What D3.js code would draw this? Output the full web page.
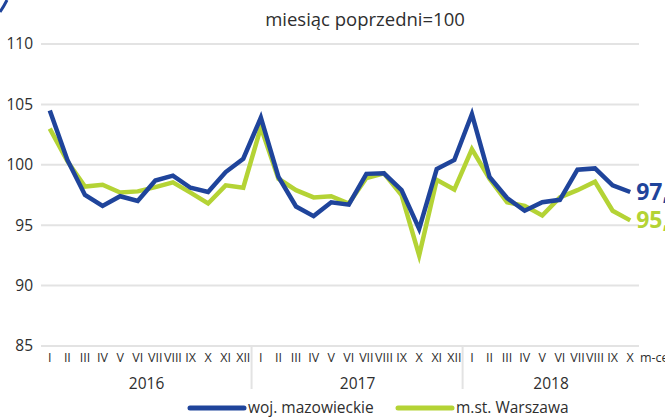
<!DOCTYPE html>
<html>
<head>
<meta charset="utf-8">
<script src="https://cdnjs.cloudflare.com/ajax/libs/d3/7.8.5/d3.min.js"></script>
<style>
	body { margin: 0; background: #fff; overflow: hidden; }
	svg { display: block; font-family: "Open Sans", "Noto Sans", sans-serif; }
</style>
</head>
<body>
<script>
var months = ["I", "II", "III", "IV", "V", "VI", "VII", "VIII", "IX", "X", "XI", "XII",
	"I", "II", "III", "IV", "V", "VI", "VII", "VIII", "IX", "X", "XI", "XII",
	"I", "II", "III", "IV", "V", "VI", "VII", "VIII", "IX", "X"];
var years = ["2016", "2017", "2018"];
var yearStart = [0, 12, 24];
var yTicks = [85, 90, 95, 100, 105, 110];

var mazowieckie = [104.5, 100.4, 97.5, 96.6, 97.4, 97.0, 98.7, 99.1, 98.1, 97.75, 99.4, 100.5,
	103.9, 99.0, 96.55, 95.75, 96.9, 96.7, 99.25, 99.3, 97.9, 94.7, 99.65, 100.4,
	104.2, 99.0, 97.25, 96.2, 96.9, 97.1, 99.6, 99.7, 98.3, 97.75];
var warszawa = [103.0, 100.3, 98.2, 98.35, 97.7, 97.8, 98.15, 98.55, 97.7, 96.8, 98.3, 98.1,
	103.1, 98.85, 97.9, 97.3, 97.4, 96.8, 98.9, 99.3, 97.5, 92.5, 98.75, 97.95,
	101.3, 98.85, 96.9, 96.6, 95.8, 97.3, 97.9, 98.6, 96.2, 95.4];
var endLabels = ["97,7", "95,4"];
var seriesNames = ["woj. mazowieckie", "m.st. Warszawa"];

var blue = "#1f449b",
		green = "#b4d335",
		grid = "#e3e3e3",
		ink = "#2e2e2e";

var w = 665,
		h = 419;
var svg = d3.select('body').append('svg').attr("width", w).attr("height", h);

var x = d3.scaleBand().domain(d3.range(months.length)).range([41, 639]);
var y = d3.scaleLinear().domain([85, 110]).range([346, 44]);

function cx(i) {
	return x(i) + x.bandwidth() / 2;
}

// little blue arc in the top-left corner
svg.append("path")
	.attr("d", "M0,12 Q4,6 7,0")
	.attr("fill", "none")
	.attr("stroke", blue)
	.attr("stroke-width", 3);

// title
svg.append("text")
	.attr("x", 365)
	.attr("y", 26)
	.attr("text-anchor", "middle")
	.attr("font-size", 18.5)
	.attr("fill", ink)
	.text("miesiąc poprzedni=100");

// horizontal grid + y labels
var yAxis = svg.append('g');
yAxis.selectAll('line').data(yTicks).enter().append('line')
	.attr("x1", 41)
	.attr("x2", 639)
	.attr("y1", function(d) { return y(d); })
	.attr("y2", function(d) { return y(d); })
	.attr("stroke", grid)
	.attr("stroke-width", 2);
yAxis.selectAll('text').data(yTicks).enter().append('text')
	.attr("x", 33)
	.attr("y", function(d) { return y(d); })
	.attr("dy", "0.35em")
	.attr("text-anchor", "end")
	.attr("font-size", 15.5)
	.attr("fill", ink)
	.text(function(d) { return d; });

// month labels
svg.append('g').selectAll('text').data(months).enter().append('text')
	.attr("x", function(d, i) { return cx(i); })
	.attr("y", 362)
	.attr("text-anchor", "middle")
	.attr("font-size", 12.5)
	.attr("fill", ink)
	.text(function(d) { return d; });

svg.append("text")
	.attr("x", 640)
	.attr("y", 362)
	.attr("font-size", 12.5)
	.attr("fill", ink)
	.text("m-ce");

// year separators and labels
svg.append('g').selectAll('line').data(yearStart.slice(1)).enter().append('line')
	.attr("x1", function(d) { return x(d) - 0.5; })
	.attr("x2", function(d) { return x(d) - 0.5; })
	.attr("y1", 346)
	.attr("y2", 389)
	.attr("stroke", grid)
	.attr("stroke-width", 2);

svg.append('g').selectAll('text').data(years).enter().append('text')
	.attr("x", function(d, i) {
		var a = yearStart[i];
		var b = i < years.length - 1 ? yearStart[i + 1] - 1 : months.length - 1;
		return (cx(a) + cx(b)) / 2;
	})
	.attr("y", 389)
	.attr("text-anchor", "middle")
	.attr("font-size", 15.5)
	.attr("fill", ink)
	.text(function(d) { return d; });

// lines
var line = d3.line()
	.x(function(d, i) { return cx(i); })
	.y(function(d) { return y(d); });

svg.append('path')
	.datum(warszawa)
	.attr("d", line)
	.attr("fill", "none")
	.attr("stroke", green)
	.attr("stroke-width", 4.5)
	.attr("stroke-linejoin", "miter");

svg.append('path')
	.datum(mazowieckie)
	.attr("d", line)
	.attr("fill", "none")
	.attr("stroke", blue)
	.attr("stroke-width", 4.5)
	.attr("stroke-linejoin", "miter");

// end labels (cut by the right edge, as in the original)
var last = months.length - 1;
svg.append("text")
	.attr("x", cx(last) + 6)
	.attr("y", y(mazowieckie[last]))
	.attr("dy", "0.35em")
	.attr("font-size", 23)
	.attr("font-weight", "bold")
	.attr("fill", blue)
	.text(endLabels[0]);
svg.append("text")
	.attr("x", cx(last) + 6)
	.attr("y", y(warszawa[last]))
	.attr("dy", "0.35em")
	.attr("font-size", 23)
	.attr("font-weight", "bold")
	.attr("fill", green)
	.text(endLabels[1]);

// legend
var legend = svg.append('g');
var legendX = [190, 398];
var legendColors = [blue, green];
for (var i = 0; i < seriesNames.length; i++) {
	legend.append('line')
		.attr("x1", legendX[i])
		.attr("x2", legendX[i] + 54)
		.attr("y1", 408)
		.attr("y2", 408)
		.attr("stroke", legendColors[i])
		.attr("stroke-width", 5)
		.attr("stroke-linecap", "round");
	legend.append('text')
		.attr("x", legendX[i] + 58)
		.attr("y", 408)
		.attr("dy", "0.35em")
		.attr("font-size", 15.5)
		.attr("fill", ink)
		.text(seriesNames[i]);
}
</script>
</body>
</html>
